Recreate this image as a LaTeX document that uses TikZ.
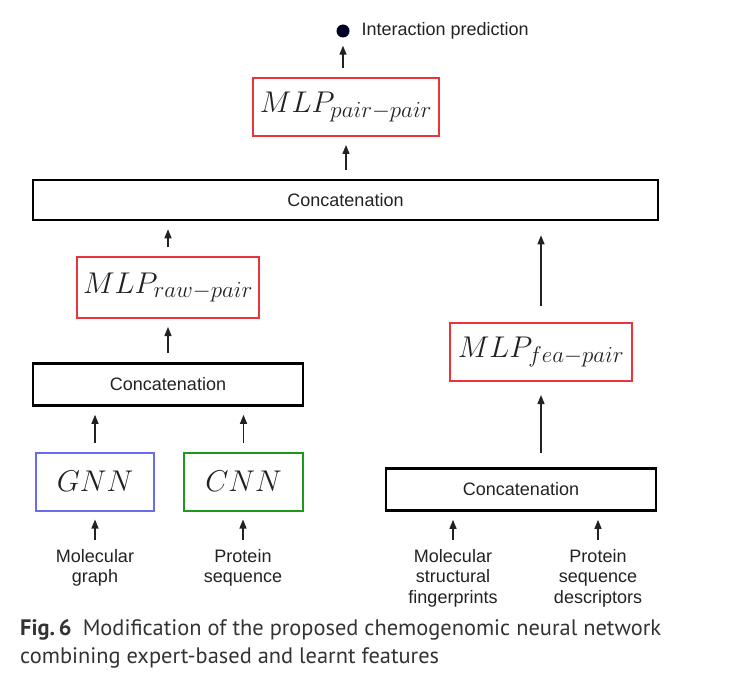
\RequirePackage{fix-cm}
\documentclass[tikz,border=0pt]{standalone}
\usepackage{fontspec}
\setmainfont{Liberation Sans}
\newfontfamily\capfont{PT Sans}
\DeclareMathSizes{30}{30}{23}{17}
\usetikzlibrary{arrows.meta}
\definecolor{mlpred}{HTML}{E8343A}
\definecolor{gnnblue}{HTML}{6B6BF0}
\definecolor{cnngreen}{HTML}{1A9A1A}
\definecolor{ink}{HTML}{222222}

\begin{document}
\begin{tikzpicture}[x=1pt, y=-1pt,
	every node/.style={font=\fontsize{18}{20.7}\selectfont, text=ink},
	layer/.style={draw, line width=2pt, inner sep=0pt, minimum height=58pt, font=\fontsize{30}{34}\selectfont},
	mlp/.style={layer, draw=mlpred, minimum width=182pt},
	catbox/.style={draw=black, line width=2.6pt, minimum height=42pt, inner sep=0pt},
	flow/.style={-{Triangle[length=9pt,width=7pt]}, line width=1.3pt, draw=ink, shorten <=9pt, shorten >=8pt},
	input/.style={align=center, anchor=north, inner sep=0pt}]
	\useasboundingbox (0,0) rectangle (730,687);
	% output
	\node[circle, fill=black!85!blue, minimum size=13pt, inner sep=0pt] (pred) at (343,31) {};
	\node[anchor=west] (predlabel) at (358,31) {Interaction prediction};
	\node[mlp, minimum width=186pt] (pairmlp) at (346,107) {$MLP_{pair-pair}$};
	\node[catbox, minimum width=625pt, minimum height=40pt] (topcat) at (345.5,200) {Concatenation};
	% learnt features
	\node[mlp, minimum height=61pt] (rawmlp) at (168,287.5) {$MLP_{raw-pair}$};
	\node[catbox, minimum width=270pt] (rawcat) at (168,384.5) {Concatenation};
	\node[layer, draw=gnnblue, minimum width=118pt] (gnn) at (95,481.5) {$GNN$};
	\node[layer, draw=cnngreen, minimum width=119pt] (cnn) at (243.5,481.5) {$CNN$};
	% expert-based features
	\node[mlp] (feamlp) at (541,352) {$MLP_{fea-pair}$};
	\node[catbox, minimum width=270pt] (feacat) at (521,489.5) {Concatenation};
	% inputs
	\node[input] (molgraph) at (95,549) {Molecular\\graph};
	\node[input] (protseq) at (243,549) {Protein\\sequence};
	\node[input] (molfp) at (453,549) {Molecular\\structural\\fingerprints};
	\node[input] (protdesc) at (598,549) {Protein\\sequence\\descriptors};

	\draw[flow] (pairmlp.north -| pred) -- (pred);
	\draw[flow] (topcat.north -| pairmlp) -- (pairmlp.south);
	\draw[flow] (rawmlp.north) -- (rawmlp.north |- topcat.south);
	\draw[flow] (rawcat.north) -- (rawmlp.south);
	\foreach \src/\dst in {gnn/rawcat, cnn/rawcat, molfp/feacat, protdesc/feacat}
		\draw[flow] (\src.north) -- (\src.north |- \dst.south);
	\draw[flow] (molgraph.north) -- (molgraph.north |- gnn.south);
	\draw[flow] (protseq.north) -- (protseq.north |- cnn.south);
	\draw[flow, shorten <=16pt, shorten >=14pt] (feamlp.north) -- (feamlp.north |- topcat.south);
	\draw[flow, shorten <=14pt, shorten >=13pt] (feacat.north -| feamlp) -- (feamlp.south);

	\node[anchor=north west, align=left, inner sep=0pt, text=black!80, font=\capfont\fontsize{22.4}{28}\selectfont] (caption) at (20,619)
		{\textbf{Fig.\,6}\hspace{0.5em}Modification of the proposed chemogenomic neural network\\combining expert-based and learnt features};
\end{tikzpicture}
\end{document}
